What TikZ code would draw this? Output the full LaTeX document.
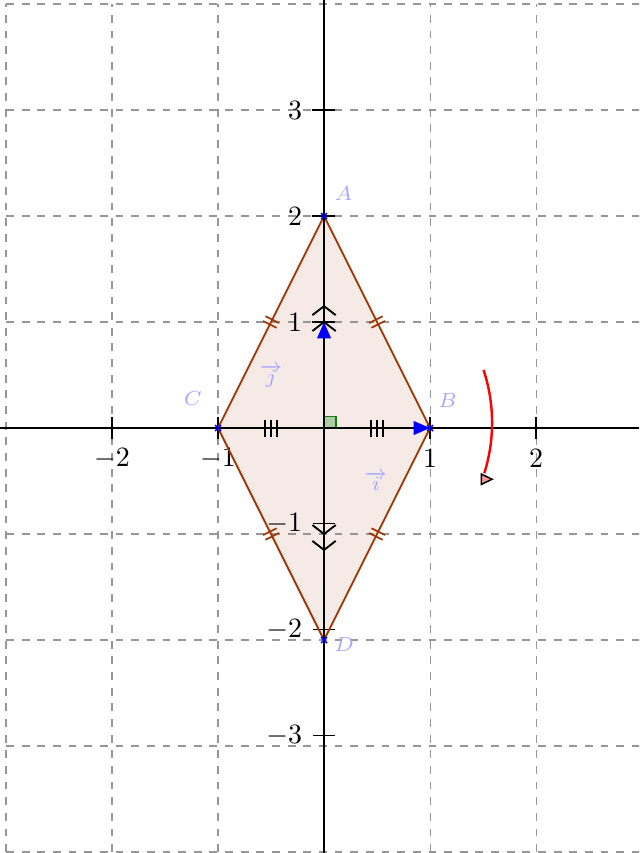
\documentclass[tikz,border=0pt]{standalone}
\usetikzlibrary{arrows.meta,calc}
\definecolor{rhomb}{RGB}{160,52,0}
\definecolor{lbl}{RGB}{165,165,255}
\definecolor{ragfill}{RGB}{172,204,164}
\definecolor{ragdraw}{RGB}{20,120,20}
\definecolor{gridc}{RGB}{150,150,150}
\begin{document}
\begin{tikzpicture}[x=1cm,y=1cm,
  gridline/.style={draw=gridc, line width=0.3pt, dash pattern=on 2.1pt off 2.1pt},
  axisline/.style={line width=0.4pt},
  tickmark/.style={line width=0.4pt},
  ticklbl/.style={font=\fontsize{10}{12}\selectfont, inner sep=1pt},
  ptlbl/.style={text=lbl, font=\fontsize{7}{8}\selectfont, inner sep=0pt},
  side/.style={draw=rhomb, line width=0.5pt, line join=round},
  sidemark/.style={draw=rhomb, line width=0.45pt},
  diag/.style={line width=0.75pt},
  chev/.style={line width=0.5pt, line join=miter},
  ptmark/.style={draw=blue, line width=0.4pt},
  vecarrow/.style={line width=0.75pt, -{Triangle[blue, length=4.4pt, width=3.6pt]}}
]
\useasboundingbox (-3.057,-4.009) rectangle (2.972,4.038);
\coordinate (A) at (0,2);
\coordinate (B) at (1,0);
\coordinate (C) at (-1,0);
\coordinate (D) at (0,-2);
\coordinate (O) at (0,0);
\coordinate (J) at (0,1);
% fill of the rhombus
\fill[rhomb, fill opacity=0.1] (A) -- (B) -- (D) -- (C) -- cycle;
% grid
\begin{scope}
\clip (-3.057,-4.009) rectangle (2.972,4.038);
\draw[gridline] (-3,-4) grid (3,4);
\end{scope}
% axes
\coordinate (xl) at (-3.057,0);
\coordinate (xr) at (2.972,0);
\coordinate (yb) at (0,-4.009);
\coordinate (yt) at (0,4.038);
\draw[axisline] (xl) -- (xr);
\draw[axisline] (yb) -- (yt);
% x ticks
\foreach \x/\t in {-2/{-2},-1/{-1},1/1,2/2}{
  \draw[tickmark] (\x,-0.1) -- (\x,0.1);
  \node[ticklbl] (xt\x) at (\x,-0.29) {\scalebox{0.75}{$\t$}};
}
% y ticks
\foreach \y in {1,2,3}{
  \draw[tickmark] (-0.11,\y) -- (0.1,\y);
  \node[ticklbl, anchor=east] (yt\y) at (-0.165,\y) {\scalebox{0.75}{$\y$}};
}
\foreach \y/\t in {-0.9/{-1},-1.9/{-2},-2.9/{-3}}{
  \draw[tickmark] (-0.1,\y) -- (0.1,\y);
  \node[ticklbl, anchor=east] at (-0.165,\y) {\scalebox{0.75}{$\t$}};
}
% rhombus sides
\draw[side] (A) -- (B) -- (D) -- (C) -- cycle;
% equal side marks
\foreach \mx/\my/\a in {0.5/1/-63.435, 0.5/-1/63.435, -0.5/-1/-63.435, -0.5/1/63.435}{
  \begin{scope}[shift={(\mx,\my)}, rotate=\a]
    \draw[sidemark] (-0.025,-0.072) -- (-0.025,0.072);
    \draw[sidemark] (0.025,-0.072) -- (0.025,0.072);
  \end{scope}
}
% diagonals
\draw[diag] (C) -- (B);
\draw[diag] (A) -- (D);
% triple marks on CB
\foreach \c in {-0.555,-0.5,-0.445,0.445,0.5,0.555}{
  \draw[line width=0.55pt] (\c,-0.08) -- (\c,0.08);
}
% chevrons on AD
\foreach \p/\q in {1.0/0.915,1.15/1.065}{
  \draw[chev] (-0.11,\q) -- (0,\p) -- (0.11,\q);
  \draw[chev] (-0.11,-\q) -- (0,-\p) -- (0.11,-\q);
}
% right angle
\draw[draw=ragdraw, fill=ragfill, line width=0.45pt] (O) rectangle (0.11,0.11);
% vectors
\draw[vecarrow] (O) -- (B);
\draw[vecarrow] (O) -- (J);
% point markers
\foreach \P in {A,B,C,D}{
  \draw[ptmark] ($(\P)+(-0.028,-0.028)$) -- ($(\P)+(0.028,0.028)$);
  \draw[ptmark] ($(\P)+(-0.028,0.028)$) -- ($(\P)+(0.028,-0.028)$);
}
% labels
\node[ptlbl] (lA) at (0.185,2.21) {\scalebox{0.78}{$A$}};
\node[ptlbl] (lB) at (1.165,0.255) {\scalebox{0.78}{$B$}};
\node[ptlbl] (lC) at (-1.236,0.28) {\scalebox{0.78}{$C$}};
\node[ptlbl] (lD) at (0.19,-2.047) {\scalebox{0.78}{$D$}};
\node[ptlbl] (li) at (0.49,-0.5) {\scalebox{0.78}{$\overrightarrow{i}$}};
\node[ptlbl] (lj) at (-0.5,0.49) {\scalebox{0.78}{$\overrightarrow{j}$}};
% red arc
\coordinate (arcS) at ($(0,0.05)+(18.3:1.585)$);
\draw[red, line width=0.65pt] (arcS) arc[start angle=18.3, end angle=-17.5, radius=1.585] coordinate (arcE);
\filldraw[fill=red!40, draw=black, line width=0.4pt, line join=miter] (1.483,-0.434) -- (1.585,-0.483) -- (1.483,-0.532) -- cycle;
\end{tikzpicture}
\end{document}
